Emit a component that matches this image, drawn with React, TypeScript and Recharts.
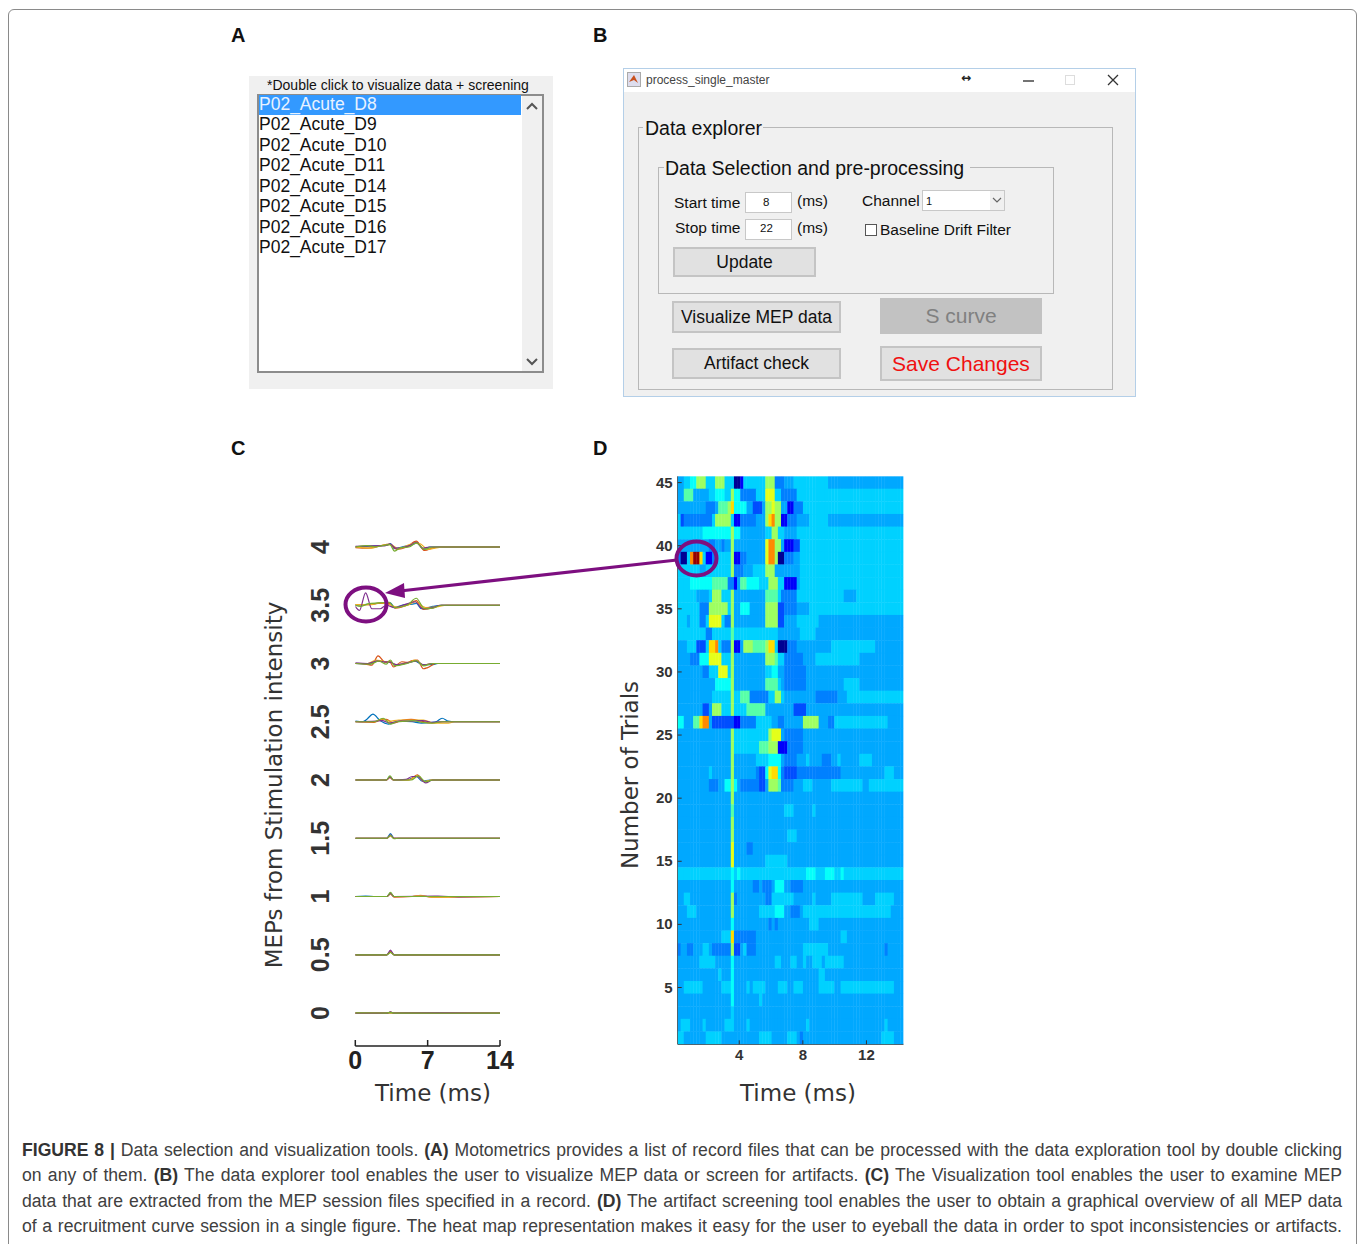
import React from 'react'
import {
    LineChart,
    Line,
    ScatterChart,
    Scatter,
    XAxis,
    YAxis,
} from 'recharts'

// panel A
const recordFiles = [
    'P02_Acute_D8',
    'P02_Acute_D9',
    'P02_Acute_D10',
    'P02_Acute_D11',
    'P02_Acute_D14',
    'P02_Acute_D15',
    'P02_Acute_D16',
    'P02_Acute_D17',
]

// panel C: one list per intensity, traces in blue, orange, yellow, purple, green order
type Pt = [number, number]
const traceColors = ['#0072BD', '#D95319', '#EDB120', '#7E2F8E', '#77AC30']
const mepTicks = [0, 0.5, 1, 1.5, 2, 2.5, 3, 3.5, 4]
const timeTicksC = [0, 7, 14]

const mep4: Pt[][] = [
    [[0, 0], [1, .005], [2, .01], [3, .015], [3.4, .03], [3.8, -.015], [4.5, 0], [5.5, .02], [6, .035], [6.6, -.02], [7.2, 0], [14, 0]],
    [[0, -.005], [1.2, -.01], [2.4, .01], [3.3, .025], [4, -.02], [5, 0], [5.9, .05], [6.7, -.03], [7.6, -.005], [8.2, 0], [14, 0]],
    [[0, 0], [1.5, -.01], [2.6, .015], [3.4, .02], [4.2, -.015], [5.6, .03], [6.2, .03], [7, -.02], [8, -.005], [8.6, 0], [14, 0]],
    [[0, .005], [1.3, .01], [2.8, .01], [3.4, .025], [3.9, -.01], [5.2, .01], [5.9, .04], [6.5, -.01], [7.2, 0], [14, 0]],
    [[0, 0], [1.2, .012], [2, 0], [2.6, .012], [3.35, .02], [3.8, -.035], [4.4, -.005], [5.2, 0], [5.9, .035], [6.7, -.02], [7.5, 0], [14, 0]],
]
const mep35: Pt[][] = [
    [[0, 0], [1.5, .01], [2.5, .02], [3, .01], [3.4, .02], [3.8, -.02], [4.5, 0], [5.5, .01], [5.9, .015], [6.4, -.03], [7.5, -.01], [8.3, 0], [14, 0]],
    [[0, .005], [1.2, .005], [2.2, .015], [3.3, .015], [3.9, -.025], [5, 0], [5.9, .04], [6.6, -.035], [7.6, -.02], [8.4, 0], [14, 0]],
    [[0, .005], [1.4, .005], [2.4, .02], [3.2, .01], [4, -.015], [5.2, .005], [5.8, .03], [6.8, -.02], [8, -.012], [8.8, 0], [14, 0]],
    [[0, -.01], [.4, -.045], [1, .107], [1.6, -.03], [2.4, -.03], [3, 0], [3.8, -.02], [4.6, 0], [5.8, .03], [6.5, -.03], [7.5, -.02], [8.2, 0], [14, 0]],
    [[0, 0], [.5, -.01], [1.2, .012], [2.3, .02], [3.3, .025], [3.8, -.02], [5, 0], [5.9, .06], [6.7, -.03], [7.5, -.025], [8.3, 0], [14, 0]],
]
const mep3: Pt[][] = [
    [[0, 0], [1.4, -.005], [2.2, .025], [3, .01], [3.4, .015], [3.9, -.015], [4.8, 0], [5.8, .02], [6.5, -.01], [7.4, -.01], [8, 0], [14, 0]],
    [[0, 0], [1, -.005], [1.6, -.015], [2.2, .065], [2.9, .01], [3.3, .02], [3.7, -.03], [4.5, .015], [5, .01], [5.5, .025], [6, .03], [6.6, -.045], [7, -.035], [7.8, 0], [14, 0]],
    [[0, 0], [1.2, 0], [2, .03], [2.6, .02], [3.4, .01], [4, -.01], [5.2, .01], [5.8, .03], [6.6, -.015], [7.4, 0], [14, 0]],
    [[0, .005], [1.2, 0], [2.1, .02], [2.8, .015], [3.4, .01], [4, -.01], [5, .005], [5.9, .02], [6.6, -.012], [7.4, 0], [14, 0]],
    [[0, 0], [1.4, -.005], [2.3, .02], [3, -.005], [3.4, .03], [3.8, -.02], [5, 0], [5.9, .025], [6.6, -.02], [7.5, 0], [14, 0]],
]
const mep25: Pt[][] = [
    [[0, .005], [.7, 0], [1.1, .02], [1.7, .066], [2.4, .01], [3.2, -.02], [3.6, -.012], [4.4, .005], [5.5, 0], [6.4, -.012], [7.8, 0], [8.4, .03], [9, .005], [9.6, 0], [14, 0]],
    [[0, 0], [1.8, -.005], [2.3, .015], [3, .02], [3.7, -.01], [4.6, .015], [5.4, .02], [6.4, .005], [7.2, -.01], [8.6, 0], [14, 0]],
    [[0, 0], [2, 0], [2.6, .025], [3.3, .005], [4.2, .015], [5.4, .015], [6.6, .015], [7.6, -.012], [9, -.012], [9.6, 0], [14, 0]],
    [[0, 0], [2, .005], [2.6, .01], [3.3, -.01], [4.2, .005], [5.2, .005], [6.5, .01], [7.5, -.005], [8.2, 0], [14, 0]],
    [[0, 0], [1.8, 0], [2.7, .03], [3.4, -.02], [4, 0], [5, .005], [5.6, .01], [6.4, -.005], [7.4, -.012], [8.4, 0], [14, 0]],
]
const mep2: Pt[][] = [
    [[0, 0], [3, 0], [3.35, .03], [3.7, 0], [5, 0], [5.9, .03], [6.5, -.01], [7.2, 0], [14, 0]],
    [[0, 0], [3, 0], [3.35, .02], [3.7, 0], [5.2, 0], [6, .045], [6.7, -.015], [7.4, 0], [14, 0]],
    [[0, 0], [3, 0], [3.35, .025], [3.7, 0], [5.2, 0], [6, .035], [6.6, -.012], [7.4, 0], [14, 0]],
    [[0, 0], [3, 0], [3.35, .025], [3.7, 0], [4.9, .005], [5.5, .03], [6, .03], [6.8, -.025], [7.5, 0], [14, 0]],
    [[0, 0], [3, 0], [3.35, .035], [3.7, 0], [5.4, 0], [6.1, .035], [6.8, -.015], [7.5, 0], [14, 0]],
]
const mep15: Pt[][] = [
    [[0, 0], [3.05, 0], [3.4, .04], [3.75, 0], [14, 0]],
    [[0, 0], [3.05, 0], [3.4, .02], [3.75, 0], [14, 0]],
    [[0, 0], [3.05, 0], [3.4, .025], [3.75, 0], [14, 0]],
    [[0, 0], [3.05, 0], [3.4, .03], [3.75, 0], [14, 0]],
    [[0, 0], [3.05, 0], [3.4, .025], [3.75, -.004], [4.2, 0], [14, 0]],
]
const mep1: Pt[][] = [
    [[0, 0], [1, .004], [2, 0], [3.05, 0], [3.4, .03], [3.75, 0], [14, 0]],
    [[0, 0], [3.05, 0], [3.4, .025], [3.75, -.005], [5.5, 0], [6.3, .006], [7.4, -.005], [14, 0]],
    [[0, 0], [3.05, 0], [3.4, .02], [3.75, 0], [5.5, 0], [6.3, .01], [7.4, -.006], [14, 0]],
    [[0, 0], [3.05, 0], [3.4, .025], [3.75, 0], [8, .003], [10, -.003], [14, 0]],
    [[0, 0], [3.05, 0], [3.4, .035], [3.75, 0], [14, 0]],
]
const mep05: Pt[][] = [
    [[0, 0], [3.05, 0], [3.4, .025], [3.75, 0], [14, 0]],
    [[0, 0], [3.05, 0], [3.4, .03], [3.75, 0], [14, 0]],
    [[0, 0], [3.05, 0], [3.4, .02], [3.75, 0], [14, 0]],
    [[0, 0], [3.05, 0], [3.4, .04], [3.75, 0], [14, 0]],
    [[0, 0], [3.05, 0], [3.4, .02], [3.75, 0], [14, 0]],
]
const mep0: Pt[][] = [
    [[0, 0], [3, 0], [5, .003], [14, 0]],
    [[0, 0], [3.1, 0], [3.4, .008], [3.7, 0], [14, 0]],
    [[0, 0], [3, 0], [8, -.002], [14, 0]],
    [[0, 0], [3.1, 0], [3.4, .01], [3.7, 0], [14, 0]],
    [[0, .002], [3, 0], [3.4, .006], [3.7, 0], [9, -.002], [14, 0]],
]
const mepByLevel: [number, Pt[][]][] = [
    [0, mep0], [0.5, mep05], [1, mep1], [1.5, mep15], [2, mep2],
    [2.5, mep25], [3, mep3], [3.5, mep35], [4, mep4],
]

// panel D: amplitude level per cell, written as level*count along each trial, trial 45 first
const heatLevelValues: Record<string, number> = {
    '0': .02, '1': .12, '2': .2, '3': .25, '4': .29, '5': .33, '6': .38,
    '7': .46, '8': .53, '9': .6, a: .66, b: .74, c: .86, d: .98,
}
const heatColumns = 72
const heatTimeStart = 0.13
const heatTimeEnd = 14.33
const heatTrials = [
    '4*2 5*2 6*2 8*3 5*3 8*3 5*3 0*2 1*1 5*7 8*3 3*3 4*3 5*11 4*24',
    '4*2 7*3 4*5 5*2 6*3 5*2 8*1 6*2 3*5 5*3 9*3 5*2 3*5 5*34',
    '4*9 3*3 4*1 7*3 8*1 a*1 6*4 4*2 2*3 4*1 8*2 9*1 8*2 4*2 1*2 3*3 5*32',
    '5*1 2*1 3*9 5*1 8*5 5*1 1*2 3*5 4*3 8*1 a*1 b*1 8*2 1*2 3*3 4*4 5*6 4*24',
    '5*8 6*9 8*1 6*2 4*8 5*2 8*2 5*2 4*4 5*34',
    '4*10 3*2 4*2 3*1 4*2 8*1 4*10 9*1 b*2 8*2 4*1 1*3 2*2 5*33',
    '3*1 0*2 5*1 b*1 d*2 a*1 5*1 1*2 3*2 5*4 8*1 1*2 3*2 4*6 9*1 b*2 8*1 0*2 3*3 4*2 5*33',
    '5*7 4*2 5*8 8*1 3*3 4*3 5*4 8*3 4*8 5*33',
    '5*4 6*7 7*5 3*2 1*1 4*1 7*2 6*4 5*3 8*3 5*2 1*4 4*1 5*33',
    '5*6 4*4 5*1 8*3 5*3 8*1 4*10 7*4 5*1 3*5 5*15 4*4 5*15',
    '5*7 3*3 8*6 5*1 8*1 4*2 6*3 4*5 8*4 2*2 3*4 4*4 5*30',
    '5*3 4*1 5*3 3*2 5*1 9*4 5*1 3*2 8*1 4*10 8*4 2*2 4*4 5*7 4*27',
    '5*9 3*2 5*6 7*1 5*14 4*7 5*5 4*28',
    '4*3 5*3 2*3 5*1 a*2 b*1 5*1 3*3 8*1 1*2 4*1 8*3 7*4 8*1 a*2 5*1 0*3 3*3 4*11 5*14 4*9',
    '4*4 3*3 6*3 9*4 5*3 8*1 4*10 8*3 7*1 5*2 3*6 4*4 5*14 4*14',
    '4*8 3*2 5*3 9*3 5*1 8*1 4*10 5*2 6*2 4*2 3*7 4*31',
    '4*12 6*5 8*1 4*10 7*4 5*1 4*1 3*7 4*12 5*5 4*14',
    '4*11 5*6 8*1 5*2 7*3 3*6 5*2 8*2 5*1 4*10 3*7 4*3 5*18',
    '4*8 2*2 4*1 8*3 5*3 8*1 5*4 7*6 4*9 2*4 4*31',
    '6*2 4*3 7*2 a*1 b*2 4*1 2*7 1*2 3*5 5*5 4*2 3*2 4*6 8*5 4*3 3*2 5*17 4*5',
    '4*17 8*1 5*11 8*1 9*3 4*1 3*6 4*32',
    '4*17 8*1 5*8 7*3 8*3 1*3 3*5 4*32',
    '4*17 8*1 4*7 5*4 6*4 4*1 3*4 4*3 5*1 4*4 3*3 4*2 5*1 4*6 5*4 4*10',
    '4*10 5*1 4*6 8*1 4*7 3*1 2*2 6*1 9*1 a*2 6*1 3*1 2*4 3*14 4*14 5*3 4*3',
    '4*10 3*3 4*2 6*2 8*1 6*1 4*1 3*6 2*2 4*1 8*3 7*1 3*4 4*3 5*3 4*6 5*10 4*2 5*11',
    '4*17 8*1 4*54',
    '4*17 7*1 4*16 5*3 4*6 5*1 4*28',
    '4*17 8*1 4*54',
    '4*17 8*1 4*17 5*3 4*34',
    '4*17 9*1 4*4 3*2 4*48',
    '4*17 9*1 4*10 5*7 4*37',
    '5*17 6*1 5*1 6*1 5*21 6*3 5*3 6*3 5*2 6*1 5*19',
    '4*17 6*1 4*6 3*2 4*1 3*3 4*1 6*3 4*2 3*4 4*32',
    '4*2 5*2 4*13 8*1 3*1 4*9 3*2 5*7 4*6 5*1 4*5 5*10 4*4 5*6 4*3',
    '4*3 5*3 4*11 8*1 4*8 5*5 6*3 4*2 3*3 4*1 5*28 4*4',
    '4*17 6*1 4*11 3*1 4*1 3*1 4*10 5*3 4*27',
    '4*14 5*3 a*1 3*7 4*27 5*2 4*18',
    '3*1 4*2 3*2 4*3 5*2 4*1 3*6 8*1 2*2 4*1 5*1 3*3 4*15 5*8 4*18 3*1 4*5',
    '4*7 5*5 4*5 6*1 4*13 5*2 4*3 5*2 4*2 5*1 4*2 5*3 4*1 5*6 4*19',
    '4*13 5*1 4*3 6*1 4*27 5*2 4*25',
    '4*2 5*6 4*6 5*3 6*1 4*4 5*1 4*1 5*4 4*4 5*3 4*2 5*3 4*5 5*5 4*2 5*17 4*3',
    '4*17 6*1 4*8 5*1 4*45',
    '4*17 5*1 4*54',
    '4*1 5*3 4*4 5*1 4*6 5*3 4*4 5*1 4*18 5*1 4*24 5*1 4*5',
    '5*2 4*7 5*5 4*12 5*4 4*5 5*3 4*1 3*1 4*25 5*4 4*3',
]
const trialTicks = [5, 10, 15, 20, 25, 30, 35, 40, 45]
const timeTicksD = [4, 8, 12]

const captionLines = [
    [['b', 'FIGURE 8 | '], ['', 'Data selection and visualization tools.  '], ['b', '(A)'], ['', ' Motometrics provides a list of record files that can be processed with the data exploration tool by double clicking']],
    [['', 'on any of them. '], ['b', '(B)'], ['', ' The data explorer tool enables the user to visualize MEP data or screen for artifacts. '], ['b', '(C)'], ['', ' The Visualization tool enables the user to examine MEP']],
    [['', 'data that are extracted from the MEP session files specified in a record. '], ['b', '(D)'], ['', ' The artifact screening tool enables the user to obtain a graphical overview of all MEP data']],
    [['', 'of a recruitment curve session in a single figure. The heat map representation makes it easy for the user to eyeball the data in order to spot inconsistencies or artifacts.']],
]

const sans = '"Liberation Sans", Arial, sans-serif'
const dejavu = '"DejaVu Sans", sans-serif'

function clamp01(v: number) {
    return Math.max(0, Math.min(1, v))
}

function jet(t: number) {
    const r = clamp01(1.5 - Math.abs(4 * t - 3))
    const g = clamp01(1.5 - Math.abs(4 * t - 2))
    const b = clamp01(1.5 - Math.abs(4 * t - 1))
    return `rgb(${Math.round(r * 255)},${Math.round(g * 255)},${Math.round(b * 255)})`
}

const heatCells = heatTrials.flatMap((row, r) => {
    const levels = row.split(' ').flatMap(seg => {
        const [level, count] = seg.split('*')
        return Array(Number(count)).fill(level) as string[]
    })
    const step = (heatTimeEnd - heatTimeStart) / heatColumns
    return levels.slice(0, heatColumns).map((level, c) => ({
        x: heatTimeStart + (c + 0.5) * step,
        y: 45 - r,
        value: heatLevelValues[level],
    }))
})

function HeatCell(props: any) {
    const { cx, cy, payload } = props
    const w = 226 / heatColumns + 0.4
    const h = 568 / 45 + 0.4
    return <rect x={cx - w / 2} y={cy - h / 2} width={w} height={h} fill={jet(payload.value)} />
}

function BottomTick({ x, y, payload }: any) {
    return (
        <g>
            <line x1={x} x2={x} y1={y} y2={y - 4} stroke="#333" />
            <text x={x} y={y + 16} textAnchor="middle" fontFamily={sans} fontWeight="bold" fontSize={15} fill="#333">{payload.value}</text>
        </g>
    )
}

function TopTick({ x, y }: any) {
    return <line x1={x} x2={x} y1={y} y2={y + 4} stroke="#333" />
}

function LeftTick({ x, y, payload }: any) {
    return (
        <g>
            <line x1={x} x2={x + 4} y1={y} y2={y} stroke="#333" />
            <text x={x - 5} y={y + 5} textAnchor="end" fontFamily={sans} fontWeight="bold" fontSize={15} fill="#333">{payload.value}</text>
        </g>
    )
}

function RightTick({ x, y }: any) {
    return <line x1={x} x2={x - 4} y1={y} y2={y} stroke="#333" />
}

function MepYTick({ y, payload }: any) {
    return (
        <text x={0} y={0} transform={`translate(329 ${y}) rotate(-90)`} dx={-250 + 250} textAnchor="middle" fontFamily={sans} fontWeight="bold" fontSize={25} fill="#333">
            {payload.value}
        </text>
    )
}

function MepXTick({ x, y, payload }: any) {
    return (
        <g>
            <line x1={x} x2={x} y1={y} y2={y - 6} stroke="#222" strokeWidth={1.5} />
            <text x={x} y={y + 23} textAnchor="middle" fontFamily={sans} fontWeight="bold" fontSize={25} fill="#222">{payload.value}</text>
        </g>
    )
}

function MepChart() {
    return (
        <div style={{ position: 'absolute', left: 0, top: 520 }}>
            <LineChart width={520} height={600} margin={{ top: 10, right: 20, bottom: 4, left: 0 }}>
                <XAxis
                    type="number"
                    dataKey="t"
                    domain={[0, 14]}
                    ticks={timeTicksC}
                    tick={<MepXTick />}
                    tickLine={false}
                    tickSize={0}
                    tickMargin={0}
                    height={70}
                    stroke="#222"
                    strokeWidth={1.5}
                    allowDataOverflow
                />
                <YAxis
                    type="number"
                    domain={[-0.283, 4.146]}
                    ticks={mepTicks}
                    tick={<MepYTick />}
                    tickLine={false}
                    axisLine={false}
                    width={355.3}
                    interval={0}
                    allowDataOverflow
                />
                {mepByLevel.flatMap(([level, traces]) =>
                    traces.map((trace, i) => (
                        <Line
                            key={`${level}-${i}`}
                            data={trace.map(([t, v]) => ({ t, v: level + v }))}
                            dataKey="v"
                            type="monotone"
                            stroke={traceColors[i]}
                            strokeWidth={1.2}
                            dot={false}
                            isAnimationActive={false}
                        />
                    ))
                )}
            </LineChart>
        </div>
    )
}

function HeatChart() {
    return (
        <div style={{ position: 'absolute', left: 620, top: 460 }}>
            <ScatterChart width={300} height={620} margin={{ top: 16.3, right: 16.5, bottom: 5.7, left: 0 }}>
                <XAxis xAxisId="b" type="number" dataKey="x" domain={[heatTimeStart, heatTimeEnd]} ticks={timeTicksD} tick={<BottomTick />} tickLine={false} tickSize={0} tickMargin={0} height={30} stroke="#333" allowDataOverflow />
                <XAxis xAxisId="t" orientation="top" type="number" domain={[heatTimeStart, heatTimeEnd]} ticks={timeTicksD} tick={<TopTick />} tickLine={false} tickSize={0} tickMargin={0} height={0} stroke="#333" allowDataOverflow />
                <YAxis yAxisId="l" type="number" dataKey="y" domain={[0.5, 45.5]} ticks={trialTicks} tick={<LeftTick />} tickLine={false} tickSize={0} tickMargin={0} width={57.7} interval={0} stroke="#333" allowDataOverflow />
                <YAxis yAxisId="r" orientation="right" type="number" domain={[0.5, 45.5]} ticks={trialTicks} tick={<RightTick />} tickLine={false} tickSize={0} tickMargin={0} width={0} interval={0} stroke="#333" allowDataOverflow />
                <Scatter xAxisId="b" yAxisId="l" data={heatCells} shape={<HeatCell />} isAnimationActive={false} />
            </ScatterChart>
        </div>
    )
}

function Txt({ x, y, size, children, color = '#111', font = sans, weight = 'normal', rotate }: any) {
    // y is the vertical centre of the text
    return (
        <div style={{
            position: 'absolute', left: x, top: y, fontFamily: font, fontSize: size, color, fontWeight: weight,
            whiteSpace: 'pre', lineHeight: 1, transform: rotate ? `translate(-50%,-50%) rotate(${rotate}deg)` : 'translateY(-50%)',
        }}>{children}</div>
    )
}

function Box({ x, y, w, h, bg = 'transparent', border = 'none', children }: any) {
    return <div style={{ position: 'absolute', left: x, top: y, width: w, height: h, background: bg, border, boxSizing: 'border-box' }}>{children}</div>
}

function Button({ x, y, w, h, label, size = 18, color = '#111', bg = '#e1e1e1', border = '2px solid #c4c4c4' }: any) {
    return (
        <div style={{
            position: 'absolute', left: x, top: y, width: w, height: h, background: bg, border, boxSizing: 'border-box',
            display: 'flex', alignItems: 'center', justifyContent: 'center', fontFamily: sans, fontSize: size, color,
        }}>{label}</div>
    )
}

function Chevron({ x, y, up }: any) {
    return (
        <svg style={{ position: 'absolute', left: x, top: y }} width={12} height={8}>
            <polyline points={up ? '1,7 6,2 11,7' : '1,1 6,6 11,1'} fill="none" stroke="#555" strokeWidth={2} />
        </svg>
    )
}

function PanelA() {
    return (
        <>
            <Box x={249} y={76} w={304} h={313} bg="#f0f0f0" />
            <Txt x={267} y={85} size={14}>*Double click to visualize data + screening</Txt>
            <Box x={257} y={94} w={287} h={279} bg="#fff" border="2px solid #8c8c8c" />
            <Box x={522} y={96} w={20} h={275} bg="#f0f0f0" />
            <Box x={259} y={95} w={262} h={20} bg="#3399ff" />
            {recordFiles.map((name, i) => (
                <Txt key={name} x={259} y={105 + i * 20.45} size={17.5} color={i === 0 ? '#e8f2ff' : '#111'}>{name}</Txt>
            ))}
            <Chevron x={526} y={102} up />
            <Chevron x={526} y={358} />
        </>
    )
}

function PanelB() {
    return (
        <>
            <Box x={623} y={68} w={513} h={329} bg="#f0f0f0" border="1px solid #b4cfe8" />
            <Box x={624} y={69} w={511} h={23} bg="#fff" />
            <svg style={{ position: 'absolute', left: 627, top: 72 }} width={15} height={16}>
                <rect x={0.5} y={0.5} width={13} height={14} fill="#dde" stroke="#aaa" />
                <polygon points="2,10 7,3 11,11 7,8" fill="#c8501e" />
            </svg>
            <Txt x={646} y={80} size={12} color="#444">process_single_master</Txt>
            <Txt x={961} y={78} size={12} font={dejavu} color="#222" weight="bold">↔</Txt>
            <svg style={{ position: 'absolute', left: 1015, top: 70 }} width={112} height={20}>
                <line x1={8} x2={19} y1={11} y2={11} stroke="#444" strokeWidth={1.5} />
                <rect x={50.5} y={5.5} width={9} height={9} fill="none" stroke="#ddd" />
                <path d="M93 5 L103 15 M103 5 L93 15" stroke="#333" strokeWidth={1.3} />
            </svg>

            <Box x={638} y={127} w={475} h={263} border="1px solid #b8b8b8" />
            <Box x={643} y={118} w={120} h={20} bg="#f0f0f0" />
            <Txt x={645} y={129} size={19.5}>Data explorer</Txt>

            <Box x={658} y={167} w={396} h={127} border="1px solid #b8b8b8" />
            <Box x={664} y={158} w={306} h={20} bg="#f0f0f0" />
            <Txt x={665} y={169} size={19.5}>Data Selection and pre-processing</Txt>

            <Txt x={674} y={203} size={15.5}>Start time</Txt>
            <Txt x={675} y={228} size={15.5}>Stop time</Txt>
            <Box x={745} y={192} w={47} h={21} bg="#fff" border="1px solid #c8c8c8" />
            <Box x={745} y={219} w={47} h={21} bg="#fff" border="1px solid #c8c8c8" />
            <Txt x={763} y={203} size={11.5}>8</Txt>
            <Txt x={760} y={229} size={11.5}>22</Txt>
            <Txt x={797} y={201} size={15.5}>(ms)</Txt>
            <Txt x={797} y={228} size={15.5}>(ms)</Txt>
            <Txt x={862} y={201} size={15.5}>Channel</Txt>
            <Box x={922} y={190} w={83} h={21} bg="#fff" border="1px solid #c8c8c8" />
            <Box x={990} y={191} w={14} h={19} bg="#f0f0f0" />
            <Txt x={926} y={201} size={11}>1</Txt>
            <svg style={{ position: 'absolute', left: 992, top: 197 }} width={10} height={7}>
                <polyline points="1,1 5,5 9,1" fill="none" stroke="#666" strokeWidth={1.2} />
            </svg>
            <Box x={865} y={224} w={12} h={12} bg="#fff" border="1px solid #555" />
            <Txt x={880} y={230} size={15.5}>Baseline Drift Filter</Txt>

            <Button x={673} y={247} w={143} h={30} label="Update" size={17.5} />
            <Button x={672} y={301} w={169} h={32} label="Visualize MEP data" size={17.5} />
            <Button x={672} y={348} w={169} h={31} label="Artifact check" size={17.5} />
            <Button x={880} y={298} w={162} h={36} label="S curve" size={21} color="#808080" bg="#c2c2c2" border="none" />
            <Button x={880} y={346} w={162} h={35} label="Save Changes" size={21} color="#f01010" />
        </>
    )
}

function Overlay() {
    const purple = '#7d0f80'
    return (
        <svg style={{ position: 'absolute', left: 0, top: 0, pointerEvents: 'none' }} width={1360} height={1244}>
            <ellipse cx={366} cy={604.5} rx={20.5} ry={17} fill="none" stroke={purple} strokeWidth={4} />
            <ellipse cx={696.5} cy={558.5} rx={20} ry={17} fill="none" stroke={purple} strokeWidth={4} />
            <line x1={677} y1={560} x2={400} y2={591} stroke={purple} strokeWidth={3.2} />
            <polygon points="385,593 404,583 405,598" fill={purple} />
        </svg>
    )
}

function Caption() {
    return (
        <>
            {captionLines.map((parts, i) => (
                <div key={i} style={{
                    position: 'absolute', left: 22, top: 1139 + i * 25.3, width: 1320, fontFamily: sans, fontSize: 17.6,
                    lineHeight: '22px', color: '#404040', textAlign: 'justify', textAlignLast: 'justify', whiteSpace: 'normal',
                }}>
                    {parts.map(([kind, text], j) => kind === 'b' ? <b key={j} style={{ color: '#333' }}>{text}</b> : <span key={j}>{text}</span>)}
                </div>
            ))}
        </>
    )
}

export default function App() {
    return (
        <div style={{ position: 'absolute', left: 0, top: 0, width: 1360, height: 1244, background: '#fff', overflow: 'hidden' }}>
            <style>{`.heat .recharts-scatter { filter: blur(0.7px); }`}</style>
            <div style={{ position: 'absolute', left: 8, top: 9, width: 1349, height: 1260, border: '1px solid #8a8a8a', borderRadius: 6, boxSizing: 'border-box' }} />

            <Txt x={231} y={35} size={20} weight="bold">A</Txt>
            <Txt x={593} y={35} size={20} weight="bold">B</Txt>
            <Txt x={231} y={448} size={20} weight="bold">C</Txt>
            <Txt x={593} y={448} size={20} weight="bold">D</Txt>

            <PanelA />
            <PanelB />

            <MepChart />
            <div className="heat"><HeatChart /></div>

            <Txt x={274} y={785} size={23} font={dejavu} color="#333" rotate={-90}>MEPs from Stimulation intensity</Txt>
            <Txt x={630} y={775} size={23} font={dejavu} color="#333" rotate={-90}>Number of Trials</Txt>
            <Txt x={375} y={1093} size={23} font={dejavu} color="#333">Time (ms)</Txt>
            <Txt x={740} y={1093} size={23} font={dejavu} color="#333">Time (ms)</Txt>

            <Overlay />
            <Caption />
        </div>
    )
}
